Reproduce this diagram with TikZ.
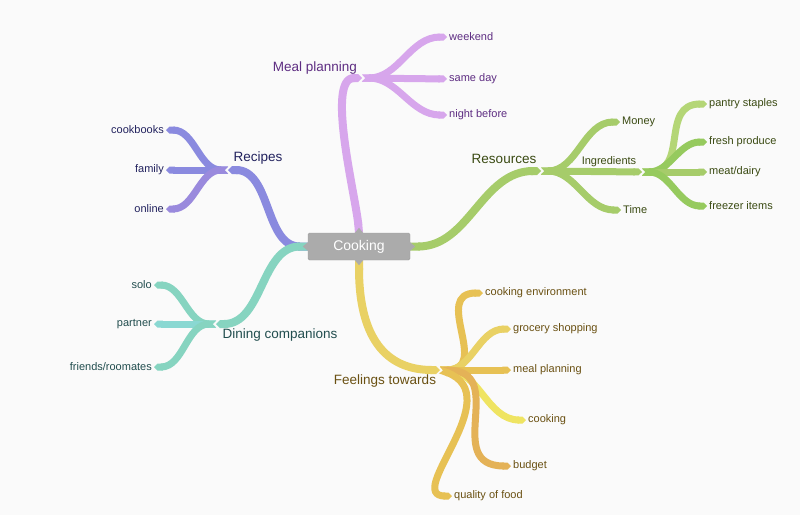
\documentclass[tikz,border=0pt]{standalone}
\usepackage{fontspec}
\setmainfont{Liberation Sans}
\usetikzlibrary{arrows.meta}

\definecolor{bgcol}{HTML}{FAFAFA}
\definecolor{rootfill}{HTML}{ABABAB}
\definecolor{rootdraw}{HTML}{9C9C9C}
\definecolor{mpcol}{HTML}{D7A6EC}
\definecolor{mptext}{HTML}{5E2D82}
\definecolor{rccol}{HTML}{8A8ADF}
\definecolor{rccol2}{HTML}{9A8ADD}
\definecolor{rctext}{HTML}{22225E}
\definecolor{dccol}{HTML}{86D4C0}
\definecolor{dccol2}{HTML}{8AD8D2}
\definecolor{dctext}{HTML}{214D4E}
\definecolor{rscol}{HTML}{A6CC6A}
\definecolor{rscol2}{HTML}{B4D676}
\definecolor{rscol3}{HTML}{96CA5E}
\definecolor{rstext}{HTML}{3A4A12}
\definecolor{ftcol}{HTML}{E9D164}
\definecolor{ftcol2}{HTML}{E7C154}
\definecolor{ftcol3}{HTML}{EFE462}
\definecolor{ftcol4}{HTML}{E4B257}
\definecolor{fttext}{HTML}{6A5012}

\begin{document}
\begin{tikzpicture}[x=1pt,y=1pt,
    main node/.style={font=\fontsize{13.5}{16}\selectfont},
    leaf/.style={font=\fontsize{11}{13}\selectfont,inner sep=2pt},
    root/.style={fill=rootfill,draw=rootdraw,text=white,rounded corners=1.5pt,
                 minimum width=102pt,minimum height=27pt,font=\fontsize{14}{16}\selectfont},
    branch/.style={line width=8pt,{Triangle Cap[reversed]}-{Triangle Cap}},
    twig/.style={line width=7pt,{Triangle Cap[reversed]}-{Triangle Cap}}]

        \fill[bgcol] (0,0) rectangle (800,-515);
        \useasboundingbox (0,0) rectangle (800,-515);

        % Define vertices
        \node[root] (cook) at (359,-246.5) {Cooking};

        \coordinate (mpj) at (362,-78);
        \node[main node,text=mptext] (mp) at (315,-68) {Meal planning};
        \node[leaf,text=mptext,anchor=west] (weekend) at (447,-37) {weekend};
        \node[leaf,text=mptext,anchor=west] (sameday) at (447,-79) {same day};
        \node[leaf,text=mptext,anchor=west] (nightbefore) at (447,-115) {night before};

        \coordinate (rcj) at (228,-170);
        \node[main node,text=rctext] (rc) at (258,-158) {Recipes};
        \node[leaf,text=rctext,anchor=east] (cookbooks) at (166,-130) {cookbooks};
        \node[leaf,text=rctext,anchor=east] (family) at (166,-170) {family};
        \node[leaf,text=rctext,anchor=east] (online) at (166,-209) {online};

        \coordinate (dcj) at (216,-324);
        \node[main node,text=dctext] (dc) at (280,-335) {Dining companions};
        \node[leaf,text=dctext,anchor=east] (solo) at (154,-285) {solo};
        \node[leaf,text=dctext,anchor=east] (partner) at (154,-324) {partner};
        \node[leaf,text=dctext,anchor=east] (friends) at (154,-367) {friends/roomates};

        \coordinate (rsj) at (541,-171);
        \node[main node,text=rstext] (rs) at (504,-159) {Resources};
        \node[leaf,text=rstext,anchor=west] (money) at (620,-122) {Money};
        \coordinate (ingj) at (642,-172);
        \node[leaf,text=rstext] (ing) at (609,-162) {Ingredients};
        \node[leaf,text=rstext,anchor=west] (time) at (621,-210) {Time};
        \node[leaf,text=rstext,anchor=west] (pantry) at (707,-104) {pantry staples};
        \node[leaf,text=rstext,anchor=west] (produce) at (707,-142) {fresh produce};
        \node[leaf,text=rstext,anchor=west] (meat) at (707,-172) {meat/dairy};
        \node[leaf,text=rstext,anchor=west] (freezer) at (707,-206) {freezer items};

        \coordinate (ftj) at (440,-370);
        \node[main node,text=fttext] (ft) at (385,-381) {Feelings towards};
        \node[leaf,text=fttext,anchor=west] (environment) at (483,-293) {cooking environment};
        \node[leaf,text=fttext,anchor=west] (grocery) at (511,-329) {grocery shopping};
        \node[leaf,text=fttext,anchor=west] (mealplan) at (511,-370) {meal planning};
        \node[leaf,text=fttext,anchor=west] (cookingleaf) at (526,-420) {cooking};
        \node[leaf,text=fttext,anchor=west] (budget) at (511,-466) {budget};
        \node[leaf,text=fttext,anchor=west] (quality) at (452,-496) {quality of food};

        % Draw edges
        \path
            (cook.north) edge[branch,mpcol,out=95,in=180,looseness=0.6] (mpj)
            (mpj) edge[twig,mpcol,out=0,in=180] (weekend.west)
            (mpj) edge[twig,mpcol] (sameday.west)
            (mpj) edge[twig,mpcol,out=0,in=180] (nightbefore.west);

        \path
            (cook.west) edge[branch,rccol,out=180,in=0] (rcj)
            (rcj) edge[twig,rccol,out=180,in=0] (cookbooks.east)
            (rcj) edge[twig,rccol] (family.east)
            (rcj) edge[twig,rccol2,out=180,in=0] (online.east);

        \path
            (cook.west) edge[branch,dccol,out=180,in=0] (dcj)
            (dcj) edge[twig,dccol,out=180,in=0] (solo.east)
            (dcj) edge[twig,dccol2] (partner.east)
            (dcj) edge[twig,dccol,out=180,in=0] (friends.east);

        \path
            (cook.east) edge[branch,rscol,out=0,in=180] (rsj)
            (rsj) edge[twig,rscol,out=0,in=180] (money.west)
            (rsj) edge[twig,rscol] (ingj)
            (rsj) edge[twig,rscol,out=0,in=180] (time.west)
            (ingj) edge[twig,rscol2,out=0,in=180,looseness=1.3] (pantry.west)
            (ingj) edge[twig,rscol3,out=0,in=180] (produce.west)
            (ingj) edge[twig,rscol] (meat.west)
            (ingj) edge[twig,rscol3,out=0,in=180] (freezer.west);

        \path
            (cook.south) edge[branch,ftcol,out=-90,in=180,out looseness=1.6,in looseness=0.9] (ftj)
            (ftj) edge[twig,ftcol2,out=0,in=180,looseness=1.5] (environment.west)
            (ftj) edge[twig,ftcol,out=0,in=180] (grocery.west)
            (ftj) edge[twig,ftcol2] (mealplan.west)
            (ftj) edge[twig,ftcol3,out=0,in=180] (cookingleaf.west)
            (ftj) edge[twig,ftcol4,out=0,in=180,looseness=1.5] (budget.west)
            (ftj) edge[twig,ftcol2,out=-20,in=180,out looseness=1.5,in looseness=1] (quality.west);

        % Little tips on the root box
        \fill[rootfill] (cook.north) ++(-5,-1) -- ++(5,6) -- ++(5,-6) -- cycle;
        \fill[rootfill] (cook.south) ++(-5,1) -- ++(5,-6) -- ++(5,6) -- cycle;
        \fill[rootfill] (cook.west) ++(1,5) -- ++(-6,-5) -- ++(6,-5) -- cycle;
        \fill[rootfill] (cook.east) ++(-1,5) -- ++(6,-5) -- ++(-6,-5) -- cycle;

        \end{tikzpicture}
\end{document}
